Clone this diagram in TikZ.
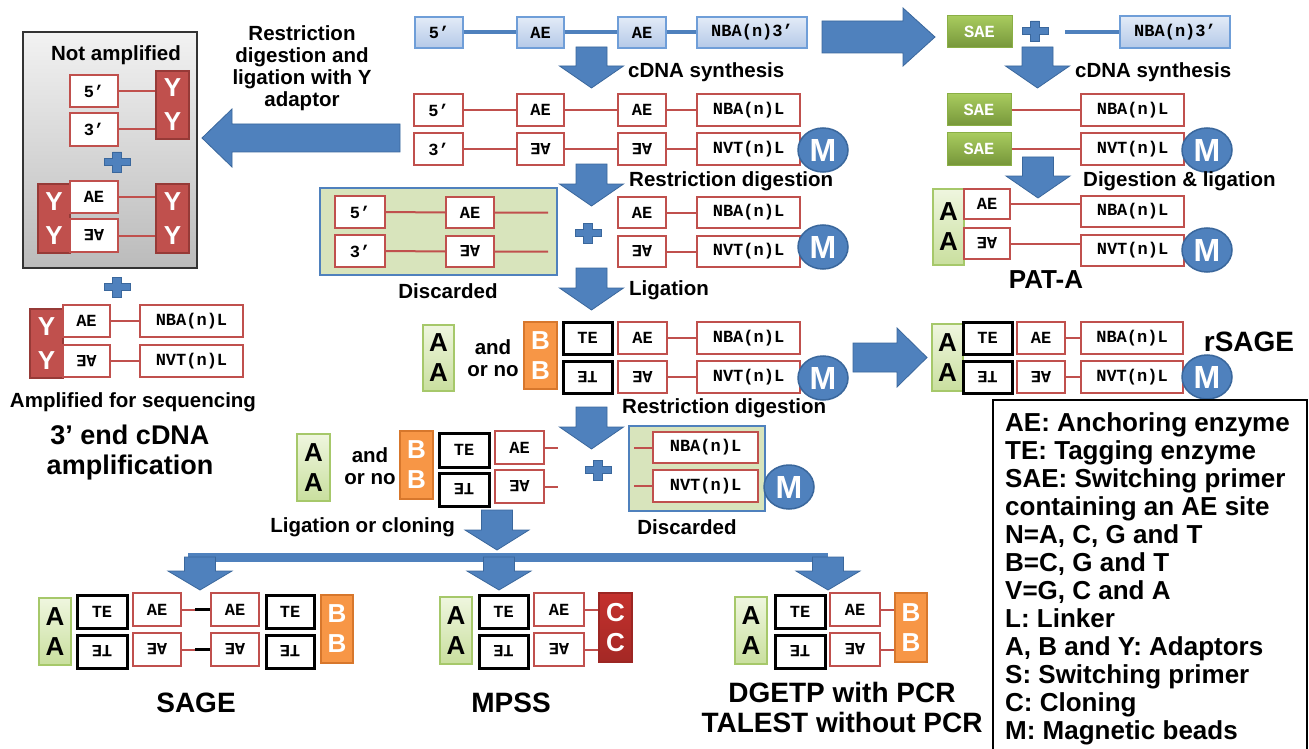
\documentclass[tikz,border=0pt]{standalone}
\usepackage{fontspec}
\setmainfont{Liberation Sans}
\newfontfamily\monof{Liberation Mono}
\usetikzlibrary{shapes.geometric}
\definecolor{arrblue}{HTML}{4F81BD}
\definecolor{arrbord}{HTML}{3A679C}
\definecolor{redc}{HTML}{C0504D}
\definecolor{bluetop}{HTML}{E3EBF7}
\definecolor{bluebot}{HTML}{B4C9E8}
\definecolor{bluebord}{HTML}{6F9ED8}
\definecolor{saetop}{HTML}{A8CB5E}
\definecolor{saebot}{HTML}{76963A}
\definecolor{saebord}{HTML}{8AAF45}
\definecolor{Atop}{HTML}{EFF6DF}
\definecolor{Abot}{HTML}{C9DF9E}
\definecolor{Abord}{HTML}{A6C86A}
\definecolor{orangec}{HTML}{F79646}
\definecolor{orangeb}{HTML}{D7772C}
\definecolor{yred}{HTML}{C0504D}
\definecolor{ybord}{HTML}{963A37}
\definecolor{cred}{HTML}{C4312D}
\definecolor{cbord}{HTML}{9C2623}
\definecolor{discfill}{HTML}{D8E4BC}
\definecolor{graytop}{HTML}{F2F2F2}
\definecolor{graybot}{HTML}{BBBBBB}
\newcommand\flip[1]{\rotatebox[origin=c]{180}{#1}}
\newcommand\mybox[7]{\node[#1, minimum width={(#5)-(#3)}, minimum height={(#6)-(#4)}] (#2) at ({((#3)+(#5))/2},{((#4)+(#6))/2}) {#7};}
\newcommand\downarr[4]{\draw[arrst] ({#1-15.5},#2) -- ({#1+15.5},#2) -- ({#1+15.5},{#3-#4}) -- ({#1+32},{#3-#4}) -- (#1,#3) -- ({#1-32},{#3-#4}) -- ({#1-15.5},{#3-#4}) -- cycle;}
\newcommand\sidearr[6]{\draw[arrst] (#1,{#4-#5}) -- (#2,{#4-#5}) -- (#2,{#4-#6}) -- (#3,#4) -- (#2,{#4+#6}) -- (#2,{#4+#5}) -- (#1,{#4+#5}) -- cycle;}
\newcommand\plusmark[2]{\draw[arrst, shift={(#1,#2)}] (-13,-3.5) -- (-4.5,-3.5) -- (-4.5,-10) -- (4.5,-10) -- (4.5,-3.5) -- (13,-3.5) -- (13,3.5) -- (4.5,3.5) -- (4.5,10) -- (-4.5,10) -- (-4.5,3.5) -- (-13,3.5) -- cycle;}
\begin{document}
\begin{tikzpicture}[x=1pt,y=-1pt,
 bx/.style={rectangle, inner sep=0pt, font=\monof\bfseries\fontsize{17}{18}\selectfont, text=black},
 bluebx/.style={bx, draw=bluebord, line width=1.2pt, top color=bluetop, bottom color=bluebot},
 redbx/.style={bx, draw=redc, line width=2.2pt, fill=white},
 blkbx/.style={bx, draw=black, line width=3pt, fill=white},
 saebx/.style={bx, draw=saebord, line width=1pt, top color=saetop, bottom color=saebot, text=white},
 adp/.style={rectangle, inner sep=0pt, align=center, font=\bfseries\fontsize{26}{30}\selectfont},
 adA/.style={adp, draw=Abord, line width=1.2pt, top color=Atop, bottom color=Abot, text=black},
 adB/.style={adp, draw=orangeb, line width=1.2pt, fill=orangec, text=white},
 adY/.style={adp, draw=ybord, line width=1.2pt, fill=yred, text=white, font=\bfseries\fontsize{26}{34}\selectfont},
 adC/.style={adp, draw=cbord, line width=1.2pt, top color=cred, bottom color=cbord!80!cred, text=white},
 bead/.style={ellipse, draw=arrbord, line width=1.5pt, fill=arrblue, text=white, font=\bfseries\fontsize{32}{32}\selectfont, minimum width=50pt, minimum height=44pt, inner sep=0pt},
 discbx/.style={rectangle, draw=arrblue, line width=2pt, fill=discfill},
 graybx/.style={rectangle, draw=black!80, line width=1.5pt, top color=graytop, bottom color=graybot},
 lab/.style={font=\bfseries\fontsize{20.5}{22}\selectfont, inner sep=0pt, align=center},
 big/.style={font=\bfseries\fontsize{28}{30}\selectfont, inner sep=0pt, align=center},
 legst/.style={font=\bfseries\fontsize{26}{28}\selectfont, inner sep=0pt, anchor=base west},
 redln/.style={draw=redc, line width=2pt},
 blkln/.style={draw=black, line width=2.5pt},
 blueln/.style={draw=arrblue, line width=4pt},
 arrst/.style={fill=arrblue, draw=arrbord, line width=0.8pt, line join=miter}]
\fill[white] (0,0) rectangle (1309,749);
\useasboundingbox (0,0) rectangle (1309,749);

% ---------- top row ----------
\mybox{bluebx}{t5}{415}{17}{463}{48}{5’}
\mybox{bluebx}{tae1}{517}{17}{564}{48}{AE}
\mybox{bluebx}{tae2}{618}{17}{666}{48}{AE}
\mybox{bluebx}{tnba}{697}{17}{807}{48}{NBA(n)3’}
\draw[blueln] (t5.east) -- (tae1.west);
\draw[blueln] (tae1.east) -- (tae2.west);
\draw[blueln] (tae2.east) -- (tnba.west);
\sidearr{822}{903}{935}{37}{16}{29}
\mybox{saebx}{sae0}{947}{16}{1012}{48}{SAE}
\plusmark{1035}{31}
\mybox{bluebx}{tnba2}{1120}{16}{1230}{48}{NBA(n)3’}
\coordinate (tl0) at (1065,32);
\draw[blueln] (tl0) -- (tl0 -| tnba2.west);
\downarr{591.5}{47}{88}{22}
\node[lab, anchor=west] (cdna1) at (628,72) {cDNA synthesis};
\downarr{1037.5}{47}{88}{22}
\node[lab, anchor=west] (cdna2) at (1075,72) {cDNA synthesis};

% ---------- cDNA rows ----------
\mybox{redbx}{r5}{414}{94}{463}{126}{5’}
\mybox{redbx}{rae1}{517}{94}{564}{126}{AE}
\mybox{redbx}{rae2}{618}{94}{666}{126}{AE}
\mybox{redbx}{rnba}{697}{94}{800}{126}{NBA(n)L}
\mybox{redbx}{r3}{414}{133}{463}{165}{3’}
\mybox{redbx}{rea1}{517}{133}{564}{165}{\flip{AE}}
\mybox{redbx}{rea2}{618}{133}{666}{165}{\flip{AE}}
\mybox{redbx}{rnvt}{697}{133}{800}{165}{NVT(n)L}
\draw[redln] (r5.east) -- (rae1.west) (rae1.east) -- (rae2.west) (rae2.east) -- (rnba.west);
\draw[redln] (r3.east) -- (rea1.west) (rea1.east) -- (rea2.west) (rea2.east) -- (rnvt.west);
\node[bead] (m1) at (823,150) {M};

% ---------- left: Y adaptor ----------
\sidearr{400}{232}{202}{138}{14}{29}
\node[lab] (rdl) at (302,68) {Restriction\\digestion and\\ligation with Y\\adaptor};
\mybox{graybx}{gray}{23}{32}{197}{268}{}
\node[lab] (notamp) at (116,55) {Not amplified};
\mybox{redbx}{g5}{70}{75}{118}{107}{5’}
\mybox{redbx}{g3}{70}{113}{118}{146}{3’}
\mybox{adY}{gy1}{156}{71}{189}{139}{Y\\Y}
\draw[redln] (g5.east) -- (g5.east -| gy1.west);
\draw[redln] (g3.east) -- (g3.east -| gy1.west);
\plusmark{117}{162}
\mybox{adY}{gyl}{38}{184}{70}{253}{Y\\Y}
\mybox{redbx}{gae}{70}{181}{118}{213}{AE}
\mybox{redbx}{gea}{70}{219}{118}{252}{\flip{AE}}
\mybox{adY}{gyr}{156}{184}{189}{253}{Y\\Y}
\draw[redln] (gae.east) -- (gae.east -| gyr.west);
\draw[redln] (gea.east) -- (gea.east -| gyr.west);
\plusmark{117}{287}
\mybox{adY}{ay}{30}{309}{63}{378}{Y\\Y}
\mybox{redbx}{aae}{63}{305}{110}{337}{AE}
\mybox{redbx}{aea}{63}{345}{110}{377}{\flip{AE}}
\mybox{redbx}{anba}{140}{305}{243}{337}{NBA(n)L}
\mybox{redbx}{anvt}{140}{345}{243}{377}{NVT(n)L}
\draw[redln] (aae.east) -- (anba.west) (aea.east) -- (anvt.west);
\node[lab] (ampl) at (133,402) {Amplified for sequencing};
\node[big, font=\bfseries\fontsize{27}{30}\selectfont] (endamp) at (130,453) {3’ end cDNA\\amplification};

% ---------- restriction digestion ----------
\downarr{591.5}{164}{206}{22}
\node[lab, anchor=west] (rd1) at (629,181) {Restriction digestion};
\mybox{discbx}{disc1}{320}{188}{557}{275}{}
\mybox{redbx}{d5}{335}{196}{385}{228}{5’}
\mybox{redbx}{d3}{335}{235}{385}{267}{3’}
\mybox{redbx}{dae}{446}{197}{494}{228}{AE}
\mybox{redbx}{dea}{446}{236}{494}{267}{\flip{AE}}
\coordinate (de1) at (548,212.5);
\coordinate (de2) at (548,251.5);
\draw[redln] (d5.east) -- (dae.west) (dae.east) -- (de1);
\draw[redln] (d3.east) -- (dea.west) (dea.east) -- (de2);
\node[lab] (discl1) at (448,291) {Discarded};
\plusmark{588}{233}
\mybox{redbx}{r4ae}{618}{197}{666}{228}{AE}
\mybox{redbx}{r4nba}{697}{197}{800}{228}{NBA(n)L}
\mybox{redbx}{r5ea}{618}{236}{666}{267}{\flip{AE}}
\mybox{redbx}{r5nvt}{697}{236}{800}{267}{NVT(n)L}
\draw[redln] (r4ae.east) -- (r4nba.west) (r5ea.east) -- (r5nvt.west);
\node[bead] (m2) at (823,247) {M};
\downarr{591.5}{268}{310}{22}
\node[lab, anchor=west] (lig) at (629,290) {Ligation};

% ---------- PAT-A ----------
\mybox{saebx}{s1}{947}{94}{1011}{126}{SAE}
\mybox{saebx}{s2}{947}{133}{1011}{165}{SAE}
\mybox{redbx}{pnba}{1081}{94}{1184}{126}{NBA(n)L}
\mybox{redbx}{pnvt}{1081}{133}{1184}{165}{NVT(n)L}
\draw[redln] (s1.east) -- (pnba.west) (s2.east) -- (pnvt.west);
\node[bead] (m3) at (1207,150) {M};
\downarr{1038}{157}{198}{22}
\node[lab, anchor=west] (dl) at (1083,181) {Digestion \& ligation};
\mybox{adA}{pa}{933}{189}{964}{265}{A\\A}
\mybox{redbx}{pae}{964}{189}{1010}{219}{AE}
\mybox{redbx}{pea}{964}{228}{1010}{259}{\flip{AE}}
\mybox{redbx}{pnba2}{1081}{196}{1184}{227}{NBA(n)L}
\mybox{redbx}{pnvt2}{1081}{235}{1184}{266}{NVT(n)L}
\draw[redln] (pae.east) -- (pae.east -| pnba2.west);
\draw[redln] (pea.east) -- (pea.east -| pnvt2.west);
\node[bead] (m4) at (1207,250) {M};
\node[big, font=\bfseries\fontsize{26}{30}\selectfont] (pata) at (1046,280) {PAT-A};

% ---------- ligation products ----------
\mybox{adA}{la}{423}{325}{454}{391}{A\\A}
\node[lab] (andor1) at (493,358) {and\\or no};
\mybox{adB}{lb}{524}{322}{557}{389}{B\\B}
\mybox{blkbx}{lte}{563}{322}{612}{354}{TE}
\mybox{blkbx}{let}{563}{361}{612}{393}{\flip{TE}}
\mybox{redbx}{lae}{618}{322}{667}{354}{AE}
\mybox{redbx}{lea}{618}{361}{667}{393}{\flip{AE}}
\mybox{redbx}{lnba}{697}{322}{800}{354}{NBA(n)L}
\mybox{redbx}{lnvt}{697}{361}{800}{393}{NVT(n)L}
\draw[redln] (lae.east) -- (lnba.west) (lea.east) -- (lnvt.west);
\node[bead] (m5) at (823,378) {M};
\node[lab, anchor=west] (rd2) at (622,408) {Restriction digestion};

% ---------- rSAGE ----------
\sidearr{853}{897}{927}{357.5}{14.5}{29.5}
\mybox{adA}{ra}{932}{324}{963}{391}{A\\A}
\mybox{blkbx}{rte}{963}{322}{1012}{354}{TE}
\mybox{blkbx}{ret}{963}{361}{1012}{393}{\flip{TE}}
\mybox{redbx}{rae}{1017}{322}{1065}{354}{AE}
\mybox{redbx}{rea}{1017}{361}{1065}{393}{\flip{AE}}
\mybox{redbx}{rnba2}{1081}{322}{1183}{354}{NBA(n)L}
\mybox{redbx}{rnvt2}{1081}{361}{1183}{393}{NVT(n)L}
\draw[redln] (rae.east) -- (rnba2.west) (rea.east) -- (rnvt2.west);
\node[bead] (m6) at (1207,377) {M};
\node[big] (rsage) at (1249,342) {rSAGE};

% ---------- second digestion ----------
\downarr{591.5}{407}{449}{22}
\mybox{adA}{xa}{297}{434}{330}{501}{A\\A}
\node[lab] (andor2) at (370,466.5) {and\\or no};
\mybox{adB}{xb}{400}{431}{433}{499}{B\\B}
\mybox{blkbx}{xte}{439}{433}{489}{467}{TE}
\mybox{blkbx}{xet}{439}{473}{489}{506}{\flip{TE}}
\mybox{redbx}{xae}{495}{431}{544}{464}{AE}
\mybox{redbx}{xea}{495}{470}{544}{503}{\flip{AE}}
\coordinate (xe1) at (558,447.5);
\coordinate (xe2) at (558,486.5);
\draw[redln] (xae.east) -- (xe1) (xea.east) -- (xe2);
\plusmark{598}{470}
\mybox{discbx}{disc2}{629}{426}{765}{511}{}
\mybox{redbx}{xnba}{653}{432}{758}{463}{NBA(n)L}
\mybox{redbx}{xnvt}{653}{470}{758}{502}{NVT(n)L}
\coordinate (xs1) at (634,447.5);
\coordinate (xs2) at (634,486);
\draw[redln] (xs1) -- (xs1 -| xnba.west) (xs2) -- (xs2 -| xnvt.west);
\node[bead] (m7) at (789,487) {M};
\node[lab] (discl2) at (687,527) {Discarded};
\node[lab, anchor=east] (ligc) at (455,527) {Ligation or cloning};
\downarr{497}{510}{550}{20}

% ---------- final products ----------
\fill[arrblue] (188,553) rectangle (828,562);
\downarr{200}{557}{590}{19}
\downarr{499}{557}{590}{19}
\downarr{828}{557}{590}{19}
% SAGE
\mybox{adA}{sa}{39}{598}{71}{665}{A\\A}
\mybox{blkbx}{ste}{77}{595}{127}{628}{TE}
\mybox{blkbx}{set}{77}{635}{127}{668}{\flip{TE}}
\mybox{redbx}{sae}{133}{593}{181}{626}{AE}
\mybox{redbx}{sea}{133}{633}{181}{666}{\flip{AE}}
\mybox{redbx}{sae2}{211}{593}{259}{626}{AE}
\mybox{redbx}{sea2}{211}{633}{259}{666}{\flip{AE}}
\mybox{blkbx}{ste2}{266}{595}{314}{628}{TE}
\mybox{blkbx}{set2}{266}{635}{314}{668}{\flip{TE}}
\mybox{adB}{sb}{321}{595}{353}{663}{B\\B}
\coordinate (sj1) at (195,609.5);
\coordinate (sj2) at (195,649.5);
\draw[redln] (sae.east) -- (sj1) (sea.east) -- (sj2);
\draw[blkln] (sj1) -- (sae2.west) (sj2) -- (sea2.west);
\node[big] (sage) at (196,703) {SAGE};
% MPSS
\mybox{adA}{ma}{440}{597}{472}{664}{A\\A}
\mybox{blkbx}{mte}{479}{595}{528}{628}{TE}
\mybox{blkbx}{met}{479}{635}{528}{668}{\flip{TE}}
\mybox{redbx}{mae}{534}{593}{584}{626}{AE}
\mybox{redbx}{mea}{534}{633}{584}{666}{\flip{AE}}
\mybox{adC}{mc}{599}{593}{632}{662}{C\\C}
\draw[redln] (mae.east) -- (mae.east -| mc.west) (mea.east) -- (mea.east -| mc.west);
\node[big] (mpss) at (511,703) {MPSS};
% DGETP
\mybox{adA}{da}{735}{597}{767}{664}{A\\A}
\mybox{blkbx}{dte}{775}{595}{825}{628}{TE}
\mybox{blkbx}{det}{775}{635}{825}{668}{\flip{TE}}
\mybox{redbx}{dae2}{830}{593}{880}{626}{AE}
\mybox{redbx}{dea2}{830}{633}{880}{666}{\flip{AE}}
\mybox{adB}{db}{895}{593}{927}{662}{B\\B}
\draw[redln] (dae2.east) -- (dae2.east -| db.west) (dea2.east) -- (dea2.east -| db.west);
\node[big] (dgetp) at (842,707) {DGETP with PCR\\TALEST without PCR};

% ---------- legend ----------
\draw[line width=2pt, fill=white] (993,400) rectangle (1307,752);
\node[legst] (l1) at (1005,431) {AE: Anchoring enzyme};
\node[legst] (l2) at (1005,459) {TE: Tagging enzyme};
\node[legst] (l3) at (1005,487) {SAE: Switching primer};
\node[legst] (l4) at (1005,515) {containing an AE site};
\node[legst] (l5) at (1005,543) {N=A, C, G and T};
\node[legst] (l6) at (1005,571) {B=C, G and T};
\node[legst] (l7) at (1005,599) {V=G, C and A};
\node[legst] (l8) at (1005,627) {L: Linker};
\node[legst] (l9) at (1005,655) {A, B and Y: Adaptors};
\node[legst] (l10) at (1005,683) {S: Switching primer};
\node[legst] (l11) at (1005,711) {C: Cloning};
\node[legst] (l12) at (1005,739) {M: Magnetic beads};
\end{tikzpicture}
\end{document}
